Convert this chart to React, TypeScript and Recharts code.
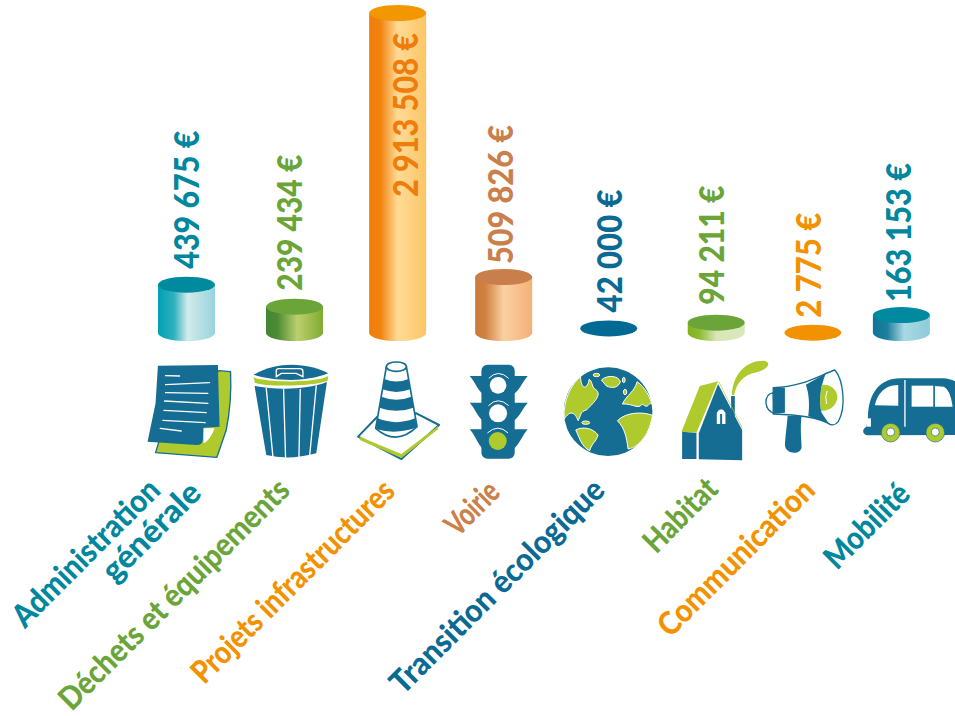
import React from "react";
import { BarChart, Bar, XAxis, YAxis, LabelList } from "recharts";

// ---- data ----
const categories = ["Administration générale", "Déchets et équipements", "Projets infrastructures", "Voirie", "Transition écologique", "Habitat", "Communication", "Mobilité"];
const amounts = [439675, 239434, 2913508, 509826, 42000, 94211, 2775, 163153];
const amountLabels = ["439 675 €", "239 434 €", "2 913 508 €", "509 826 €", "42 000 €", "94 211 €", "2 775 €", "163 153 €"];
const categoryLines = [["Administration", "générale"], ["Déchets et équipements"], ["Projets infrastructures"], ["Voirie"], ["Transition écologique"], ["Habitat"], ["Communication"], ["Mobilité"]];

const rows = categories.map((name, i) => ({ name, amount: amounts[i] }));

// ---- layout and style ----
const W = 955, H = 716, BASE = 333, BAR_W = 57, RY = 8;
const FONT = "Lato, 'Open Sans', sans-serif";
const BLUE = "#156d93", GREEN = "#afca2c";
const nudge = [0, 5.9, 6.9, 10.8, 13.7, 19.1, 13.6, 0];
const valueColor = ["#00879d", "#6ba53a", "#ef7d0b", "#cb7f4a", "#0a6a94", "#6ba53a", "#f39200", "#00879d"];
const nameColor = ["#00879d", "#6ba53a", "#f39200", "#cb7f4a", "#0a6a94", "#6ba53a", "#f39200", "#00879d"];
const topColor = ["#008a9f", "#6ba53a", "#f39700", "#c97f4b", "#006a94", "#6ba53a", "#f39200", "#008a9f"];
const sideStops: (string[][] | null)[] = [
  [["0", "#00a0b2"], ["0.28", "#2fb0bf"], ["0.52", "#d2ebea"], ["1", "#98d3de"]],
  [["0", "#3f8532"], ["0.2", "#4d8c35"], ["0.55", "#bccf6e"], ["1", "#80ac31"]],
  [["0", "#f07c0a"], ["0.2", "#f1830f"], ["0.5", "#ffdb96"], ["1", "#fcc564"]],
  [["0", "#cc7a38"], ["0.18", "#d08242"], ["0.5", "#fbd0a2"], ["1", "#f4b078"]],
  null,
  [["0", "#7fb31c"], ["0.2", "#8dba2f"], ["0.5", "#d8e6b8"], ["1", "#dae7ba"]],
  null,
  [["0", "#0f7596"], ["0.25", "#1d7f9e"], ["0.55", "#a9d9e3"], ["1", "#8ccbd8"]],
];
const valueGap = [16, 16, -184, 13, 16, 18, 15, 13];
const valueDx = [12.5, 7, 20, 9, 13.5, 8, 8.5, 10];
const valueLen = [138, 136, 164, 139, 123, 119, 105, 139];
const labelGeom = [
  [{ dx: -24, y: 492, len: 194 }, { dx: 17, y: 495, len: 125 }],
  [{ dx: -2.5, y: 492, len: 311 }],
  [{ dx: -0.5, y: 493, len: 272 }],
  [{ dx: -1.5, y: 494, len: 62 }],
  [{ dx: -1.5, y: 492, len: 288 }],
  [{ dx: 4, y: 491, len: 90 }],
  [{ dx: 4.5, y: 492, len: 207 }],
  [{ dx: 11, y: 496, len: 106 }],
];

// ---- pictograms, drawn at 3x around their own origin ----
const W2 = "#ffffff";
function Line({ d, w = 3 }: { d: string; w?: number }) {
  return <path d={d} fill="none" stroke={W2} strokeWidth={w} strokeLinecap="round" />;
}
const iconOrigin = [[169.5, 219], [493.5, 219], [802.5, 219], [160.5, 219], [475.5, 219], [798, 219], [217.5, 129], [483, 129]];
const icons = [
  <g key="doc">
    <path d="M268,332 L303,335 C306,400 298,470 290,510 L262,592 L78,578 L88,545 Z" fill={GREEN} stroke={BLUE} strokeWidth={4} strokeLinejoin="round" />
    <path d="M85,317 L265,315 L270,500 L222,503 L220,540 Q218,556 200,555 L54,545 L78,430 Z" fill={BLUE} />
    <path d="M222,505 L255,505 C248,525 235,545 222,550 Z" fill={W2} />
    {["M108,347 L150,348", "M108,374 L240,368", "M108,398 L235,400", "M105,423 L235,430", "M103,451 L230,458", "M100,481 L227,488", "M92,505 L155,513"].map((d) => <Line key={d} d={d} w={4} />)}
  </g>,
  <g key="trash">
    <path d="M375,378 C440,390 530,390 592,366 L560,580 Q480,602 410,585 Z" fill={BLUE} />
    {["M410,385 L430,590", "M462,388 L468,597", "M512,388 L508,597", "M560,378 L540,590"].map((d) => <Line key={d} d={d} w={4} />)}
    <path d="M372,352 C410,368 560,370 596,348 L594,362 C560,378 410,382 376,368 Z" fill={GREEN} />
    <path d="M372,344 C410,322 450,314 485,314 C530,314 570,325 596,340 C560,354 520,360 485,360 C440,360 400,354 372,344 Z" fill={BLUE} />
    <path d="M440,350 L440,332 Q440,326 448,326 L510,326 Q520,326 520,334 L520,350 L500,340 L455,340 Z" fill="none" stroke={W2} strokeWidth={4} />
  </g>,
  <g key="cone">
    <path d="M685,530 L745,468 L860,460 L928,495 L815,597 Z" fill={W2} stroke={BLUE} strokeWidth={6} strokeLinejoin="round" />
    <path d="M690,530 L815,582 L925,498 L925,508 L815,594 L690,540 Z" fill={GREEN} />
    <path d="M770,320 L738,505 Q800,560 862,500 L830,320 Z" fill={W2} stroke={BLUE} strokeWidth={5} strokeLinejoin="round" />
    <path d="M764,357 Q800,372 836,357 L841,388 Q800,404 759,388 Z" fill={BLUE} />
    <path d="M755,410 Q800,428 845,410 L851,443 Q800,462 749,443 Z" fill={BLUE} />
    <path d="M744,475 Q800,498 856,475 L861,502 Q800,525 739,507 Z" fill={BLUE} />
    <ellipse cx={800} cy={320} rx={30} ry={14} fill={W2} stroke={BLUE} strokeWidth={5} />
  </g>,
  <g key="light">
    <rect x={95} y={314} width={100} height={282} rx={18} fill={BLUE} />
    {[[348, 406], [428, 486], [508, 570]].map(([a, b]) => (
      <g key={a}>
        <path d={`M60,${a} L110,${a} L110,${b} C88,${b - 2} 80,${a + 22} 60,${a}Z`} fill={BLUE} />
        <path d={`M234,${a} L180,${a} L180,${b} C205,${b - 2} 214,${a + 22} 234,${a}Z`} fill={BLUE} />
      </g>
    ))}
    <circle cx={145} cy={376} r={25} fill={W2} />
    <circle cx={145} cy={460} r={27} fill={W2} />
    <circle cx={144} cy={543} r={27} fill={GREEN} />
    {["M118,354 Q145,326 176,354", "M117,436 Q145,408 176,436", "M114,518 Q145,490 174,518"].map((d) => <Line key={d} d={d} />)}
  </g>,
  <g key="globe">
    <circle cx={475} cy={455} r={133} fill={BLUE} />
    <g fill={GREEN} stroke={W2} strokeWidth={3}>
      <path d="M392,350 C365,375 340,415 343,478 C360,450 375,455 385,482 C395,465 390,455 410,450 C435,425 462,400 432,385 C425,370 425,360 418,358 C415,385 395,395 392,350 Z" />
      <path d="M378,510 C400,498 430,505 445,525 C440,545 425,550 420,572 C395,560 390,535 378,510 Z" />
      <path d="M518,432 C530,405 555,395 562,365 C585,380 600,410 606,432 C595,425 598,450 578,432 C565,450 550,430 518,432 Z" />
      <path d="M503,482 C530,455 580,455 608,466 C600,520 570,560 535,567 C530,530 525,505 503,482 Z" />
      <path d="M455,360 C470,345 505,345 512,365 C505,385 485,385 470,378 Z" />
      <ellipse cx={440} cy={345} rx={10} ry={5} />
      <ellipse cx={408} cy={488} rx={12} ry={5} />
      <ellipse cx={522} cy={360} rx={4} ry={8} />
      <ellipse cx={526} cy={396} rx={5} ry={8} />
    </g>
  </g>,
  <g key="house">
    <rect x={844} y={408} width={11} height={60} fill={BLUE} />
    <path d="M846,405 C850,340 890,300 945,302 C968,310 950,330 920,337 C880,345 860,370 853,405 Z" fill={GREEN} />
    <path d="M695,515 L750,378 L805,364 L740,518 Z" fill={GREEN} />
    <path d="M747,598 L747,520 L805,372 L877,510 L877,601 Z" fill={BLUE} />
    <path d="M807,365 L878,505" stroke={GREEN} strokeWidth={2} fill="none" />
    <path d="M697,515 L740,519 L740,597 L697,597 Z" fill={BLUE} />
    <path d="M801,492 L801,458 Q814,438 827,458 L827,492 L817,492 L817,462 L811,462 L811,492 Z" fill={W2} />
  </g>,
  <g key="horn">
    <path d="M100,308 Q78,312 78,338 Q80,362 102,370 Z" fill={W2} stroke={BLUE} strokeWidth={4} />
    <path d="M143,378 L185,376 C180,420 185,450 185,470 C185,495 137,495 135,465 C137,430 142,400 143,378 Z" fill={BLUE} />
    <path d="M100,293 C190,290 240,255 285,240 C310,270 320,350 295,395 C285,408 272,405 265,400 C240,385 200,375 100,372 Z" fill={W2} stroke={BLUE} strokeWidth={4} strokeLinejoin="round" />
    <path d="M100,293 L135,293 L135,368 L100,372 Z" fill={BLUE} />
    <path d="M198,284 L258,250 C240,290 238,340 245,368 L268,402 L205,378 C210,345 207,310 198,284 Z" fill={BLUE} />
    <path d="M245,285 C275,280 295,305 292,325 C290,345 270,365 243,362 C240,335 240,310 245,285 Z" fill={GREEN} />
    <path d="M262,302 Q254,320 260,342" fill="none" stroke={W2} strokeWidth={3} />
  </g>,
  <g key="van">
    <path d="M384,382 C385,310 420,265 480,265 L610,265 C650,268 680,290 690,330 L690,435 L385,436 C366,436 365,416 380,410 Z" fill={BLUE} />
    <path d="M405,346 C410,318 430,285 475,285 L475,347 Z" fill={W2} />
    <path d="M515,287 L580,287 L580,350 L515,350 Z" fill={W2} />
    <path d="M585,288 L612,290 Q632,300 638,350 L585,350 Z" fill={W2} />
    <path d="M495,270 L495,410" stroke={W2} strokeWidth={4} />
    <rect x={381} y={385} width={12} height={25} fill={W2} />
    {[452, 586].map((c) => (
      <g key={c}>
        <circle cx={c} cy={428} r={28} fill={GREEN} stroke={BLUE} strokeWidth={2} />
        <circle cx={c} cy={426} r={12} fill={W2} stroke={BLUE} strokeWidth={2} />
      </g>
    ))}
  </g>,
];

// ---- custom renderers ----
function Cylinder(props: any) {
  const { x, y, width, height, index } = props;
  const rx = width / 2;
  const bottom = y + height;
  return (
    <g>
      {sideStops[index] && (
        <path d={`M${x},${y} L${x},${bottom} A${rx},${RY} 0 0 0 ${x + width},${bottom} L${x + width},${y} Z`}
          transform={`translate(${nudge[index]},0)`} fill={`url(#side${index})`} />
      )}
      <ellipse cx={x + rx + nudge[index]} cy={y} rx={rx} ry={RY} fill={topColor[index]} />
    </g>
  );
}

function ValueLabel(props: any) {
  const { x, y, width, index } = props;
  const tx = x + width / 2 + nudge[index] + valueDx[index];
  const ty = y - valueGap[index];
  return (
    <text x={tx} y={ty} transform={`rotate(-90 ${tx} ${ty})`} textAnchor="start" fontFamily={FONT} fontWeight={900}
      fontSize={34} fill={valueColor[index]} textLength={valueLen[index]} lengthAdjust="spacingAndGlyphs">
      {amountLabels[index]}
    </text>
  );
}

function CategoryTick(props: any) {
  const { x, y, index } = props;
  const cx = x + nudge[index];
  const [ox, oy] = iconOrigin[index];
  return (
    <g>
      <g transform={`translate(${cx},${y}) scale(${1 / 3}) translate(${-ox},${-oy})`}>{icons[index]}</g>
      {categoryLines[index].map((line, k) => {
        const g = labelGeom[index][k];
        const tx = cx + g.dx;
        return (
          <text key={line} x={tx} y={g.y} transform={`rotate(-45 ${tx} ${g.y})`} textAnchor="end" fontFamily={FONT}
            fontWeight={900} fontSize={32} fill={nameColor[index]} textLength={g.len} lengthAdjust="spacingAndGlyphs">
            {line}
          </text>
        );
      })}
    </g>
  );
}

export default function App() {
  return (
    <div style={{ position: "absolute", left: 0, top: 0, width: W, height: H, background: "#fff" }}>
      <BarChart width={W} height={H} data={rows} barSize={BAR_W} margin={{ top: 13, right: 3, bottom: 0, left: 135 }}>
        <defs>
          {sideStops.map((stops, i) =>
            stops ? (
              <linearGradient key={i} id={`side${i}`} x1="0" y1="0" x2="1" y2="0">
                {stops.map(([o, c]) => <stop key={o} offset={o} stopColor={c} />)}
              </linearGradient>
            ) : null
          )}
        </defs>
        <YAxis hide domain={[0, amounts[2]]} />
        <XAxis dataKey="name" height={H - BASE} axisLine={false} tickLine={false} tickSize={0} tickMargin={0} interval={0} tick={<CategoryTick />} />
        <Bar dataKey="amount" isAnimationActive={false} shape={<Cylinder />}>
          <LabelList dataKey="amount" content={<ValueLabel />} />
        </Bar>
      </BarChart>
    </div>
  );
}
